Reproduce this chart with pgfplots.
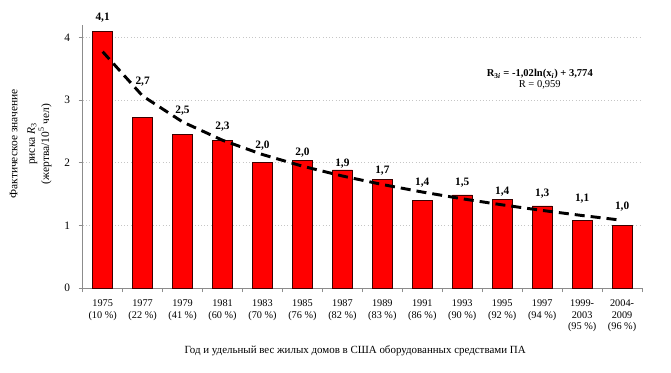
\documentclass[border=0pt]{standalone}
\usepackage{pgfplots}
\pgfplotsset{compat=1.18}
\usepackage{fontspec}
\setmainfont{Liberation Serif}
\definecolor{axgray}{RGB}{140,140,140}
\definecolor{barred}{RGB}{255,0,0}
\definecolor{baredge}{RGB}{60,0,0}
\begin{document}
\begin{tikzpicture}
\path[use as bounding box] (-62pt,-63pt) rectangle (441.2pt,216pt);
\begin{axis}[
  at={(0,0)}, anchor=south west,
  scale only axis, width=419.5pt, height=197.25pt,
  xmin=-0.5, xmax=13.5, ymin=0, ymax=4.2,
  axis x line*=bottom, axis y line*=left,
  axis line style={axgray, line width=0.6pt},
  xtick=data,
  xticklabels={{1975\\(10 \%)},{1977\\(22 \%)},{1979\\(41 \%)},{1981\\(60 \%)},{1983\\(70 \%)},{1985\\(76 \%)},{1987\\(82 \%)},{1989\\(83 \%)},{1991\\(86 \%)},{1993\\(90 \%)},{1995\\(92 \%)},{1997\\(94 \%)},{1999-\\2003\\(95 \%)},{2004-\\2009\\(96 \%)}},
  xticklabel style={align=center, font=\fontsize{7.7}{8.9}\selectfont, yshift=-2pt},
  major x tick style={draw=none},
  minor xtick={-0.5,0.5,...,13.5},
  minor x tick style={axgray, line width=0.5pt},
  minor tick length=3pt,
  ytick={0,1,2,3,4},
  yticklabel style={font=\fontsize{8.5}{10}\selectfont, xshift=-3pt},
  major y tick style={axgray, line width=0.5pt},
  major tick length=3pt,
  tick align=outside,
  /pgf/number format/assume math mode=true,
  ymajorgrids,
  grid style={gray!45, dotted, line width=0.5pt},
  ylabel={Фактическое значение\\[6pt]риска \textit{R}\textsubscript{3}\\(жертва/10\textsuperscript{5} чел)},
  ylabel style={at={(axis description cs:-0.093,0.548)}, anchor=center, align=center, font=\fontsize{8.6}{7.2}\selectfont},
  xlabel={Год и удельный вес жилых домов в США оборудованных средствами ПА},
  xlabel style={at={(axis description cs:0.487,-0.238)}, anchor=center, font=\fontsize{8.2}{9}\selectfont},
  clip=false,
]
\addplot[ybar, bar width=15pt, bar shift=0pt, fill=barred, draw=baredge, line width=0.6pt] coordinates {
(0,4.10) (1,2.73) (2,2.455) (3,2.35) (4,2.01) (5,2.04) (6,1.885) (7,1.74) (8,1.40) (9,1.486) (10,1.42) (11,1.31) (12,1.086) (13,1.00)};
\addplot[black, line width=2.2pt, dash pattern=on 7.5pt off 4.5pt, mark=none] coordinates {
(0,3.774) (1,3.067) (2,2.653) (3,2.360) (4,2.132) (5,1.946) (6,1.789) (7,1.653) (8,1.533) (9,1.425) (10,1.328) (11,1.239) (12,1.158) (13,1.082)};
\addplot[draw=none, mark=none, nodes near coords, point meta=explicit symbolic,
  nodes near coords style={anchor=center, font=\bfseries\fontsize{8.5}{10}\selectfont}] coordinates {
(0,4.31)[4,1] (1,3.30)[2,7] (2,2.84)[2,5] (3,2.58)[2,3] (4,2.28)[2,0] (5,2.17)[2,0] (6,1.99)[1,9] (7,1.87)[1,7] (8,1.69)[1,4] (9,1.69)[1,5] (10,1.545)[1,4] (11,1.50)[1,3] (12,1.42)[1,1] (13,1.30)[1,0]};
\node[align=center, font=\fontsize{7.9}{8}\selectfont] at (axis cs:10.94,3.335) {\textbf{R\textsubscript{3\textit{i}} = -1,02ln(x\textsubscript{\textit{i}}) + 3,774}\\R = 0,959};
\end{axis}
\end{tikzpicture}
\end{document}
